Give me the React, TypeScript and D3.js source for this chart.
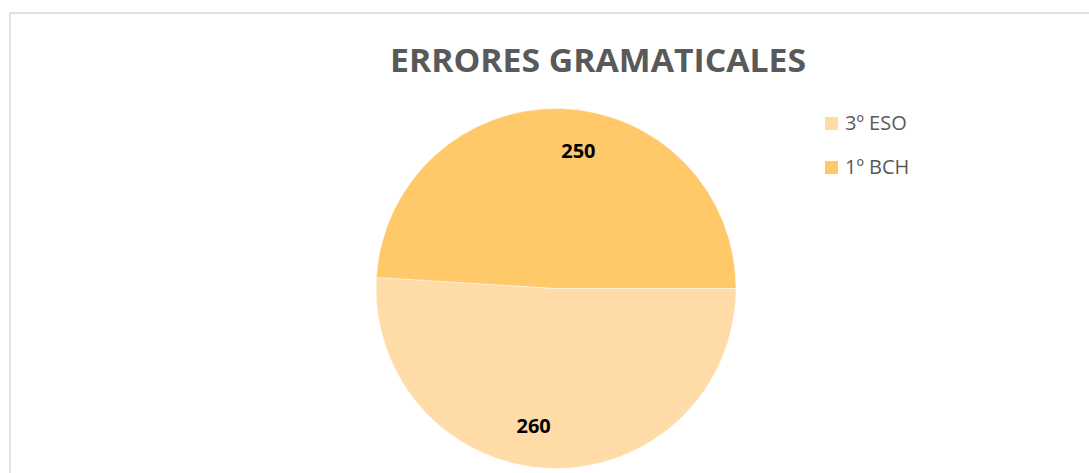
import { useEffect, useRef } from 'react'
import * as d3 from 'd3'

const CATEGORIES = ['3º ESO', '1º BCH']
const VALUES = [260, 250]
const COLORS = ['#FFDBA8', '#FFC869']
const TITLE = 'ERRORES GRAMATICALES'

const W = 1089
const H = 473
const CX = 556
const CY = 288.5
const R = 180
const LABEL_SHIFT = (7.5 * Math.PI) / 180

export default function App() {
  const svgRef = useRef<SVGSVGElement | null>(null)

  useEffect(() => {
    document.body.style.margin = '0'
    if (!svgRef.current) return
    const svg = d3.select(svgRef.current)
    svg.selectAll('*').remove()

    // chart frame
    svg.append('rect')
      .attr('x', 10).attr('y', 13)
      .attr('width', W + 20).attr('height', H + 20)
      .attr('fill', 'white').attr('stroke', '#d9d9d9').attr('stroke-width', 1.5)

    // title
    svg.append('text')
      .attr('x', 598).attr('y', 72)
      .attr('text-anchor', 'middle')
      .attr('font-family', '"Open Sans", sans-serif')
      .attr('font-weight', 700).attr('font-size', 33)
      .attr('fill', '#595959')
      .attr('textLength', 416).attr('lengthAdjust', 'spacingAndGlyphs')
      .text(TITLE)

    // pie starts at 3 o'clock, clockwise
    const pie = d3.pie<number>().sort(null)
      .startAngle(Math.PI / 2).endAngle(Math.PI / 2 + 2 * Math.PI)
    const arcs = pie(VALUES)
    const arc = d3.arc<d3.PieArcDatum<number>>().innerRadius(0).outerRadius(R)

    const g = svg.append('g').attr('transform', `translate(${CX},${CY})`)
    g.selectAll('path.slice')
      .data(arcs)
      .join('path')
      .attr('class', 'slice')
      .attr('d', arc)
      .attr('fill', (_, i) => COLORS[i])
      .attr('stroke', 'white').attr('stroke-width', 0.5)

    // data labels
    const labelR = 139
    g.selectAll('text.lbl')
      .data(arcs)
      .join('text')
      .attr('class', 'lbl')
      .attr('x', (d) => Math.sin((d.startAngle + d.endAngle) / 2 + LABEL_SHIFT) * labelR)
      .attr('y', (d) => -Math.cos((d.startAngle + d.endAngle) / 2 + LABEL_SHIFT) * labelR)
      .attr('dy', '0.35em')
      .attr('text-anchor', 'middle')
      .attr('font-family', '"Open Sans", sans-serif')
      .attr('font-weight', 700).attr('font-size', 20)
      .attr('fill', '#000')
      .text((d) => String(d.data))

    // legend
    const legend = svg.append('g').attr('transform', 'translate(825,117)')
    CATEGORIES.forEach((c, i) => {
      const ly = i * 44
      legend.append('rect')
        .attr('x', 0).attr('y', ly)
        .attr('width', 13).attr('height', 13)
        .attr('fill', COLORS[i])
      legend.append('text')
        .attr('x', 20).attr('y', ly + 13)
        .attr('font-family', '"Open Sans", sans-serif')
        .attr('font-size', 20)
        .attr('fill', '#595959')
        .text(c)
    })
  }, [])

  return <svg ref={svgRef} width={W} height={H} style={{ display: 'block' }} />
}
